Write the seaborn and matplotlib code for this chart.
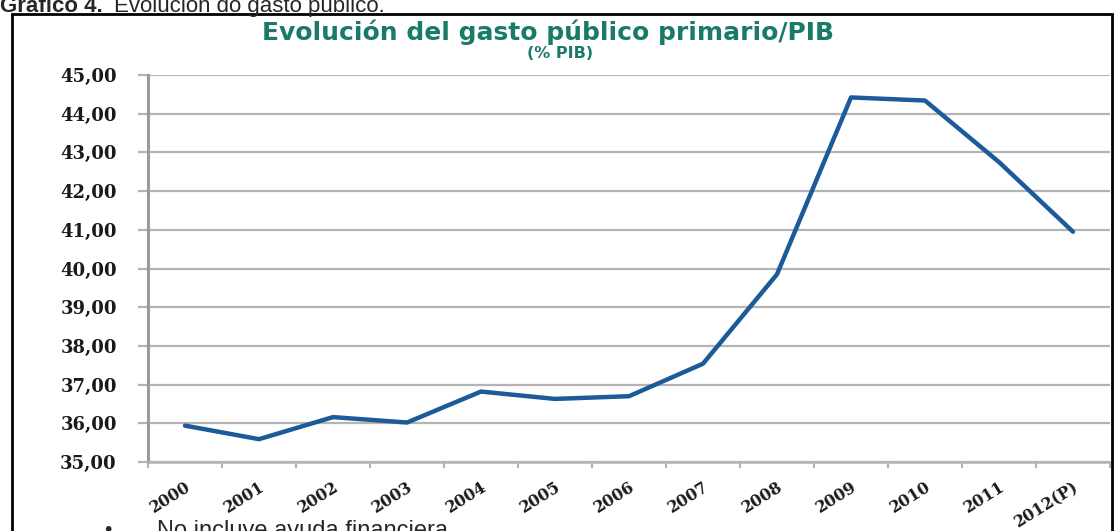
import matplotlib
matplotlib.use("Agg")
import matplotlib.pyplot as plt
import seaborn as sns
import numpy as np
import pandas as pd
from matplotlib.patches import Rectangle

years = ["2000", "2001", "2002", "2003", "2004", "2005", "2006",
         "2007", "2008", "2009", "2010", "2011", "2012(P)"]
gasto = [35.94, 35.59, 36.16, 36.02, 36.82, 36.63, 36.70,
         37.54, 39.85, 44.42, 44.34, 42.75, 40.95]
yticks = [35, 36, 37, 38, 39, 40, 41, 42, 43, 44, 45]
ytick_labels = ["35,00", "36,00", "37,00", "38,00", "39,00", "40,00",
                "41,00", "42,00", "43,00", "44,00", "45,00"]

title_text = "Evolución del gasto público primario/PIB"
subtitle_text = "(% PIB)"
header_bold = "Gráfico 4."
header_rest = "Evolución do gasto público."
note_text = "No incluye ayuda financiera"

sns.set_style("white")
plt.rcParams['font.family'] = ['DejaVu Sans']

W, H = 1115, 531
fig = plt.figure(figsize=(W / 100, H / 100), dpi=100)
ax = fig.add_axes([148 / W, 1 - 462 / H, (1110 - 148) / W, (462 - 75) / H])

df = pd.DataFrame({"year": years, "gasto": gasto})
sns.lineplot(data=df, x="year", y="gasto", ax=ax, color="#1c5a9a",
             linewidth=3.2, sort=False)

ax.set_xlim(-0.5, len(years) - 0.5)
ax.set_ylim(35, 45)
ax.set_xlabel("")
ax.set_ylabel("")

grid_col = "#b4b4b4"
ax.set_yticks(yticks)
ax.set_yticklabels(ytick_labels, fontfamily="DejaVu Serif", fontweight="bold",
                   fontsize=13, color="#1a1a1a")
ax.yaxis.grid(True, color=grid_col, linewidth=1.6)
ax.xaxis.grid(False)
ax.tick_params(axis="y", length=7.5, width=1.6, color=grid_col, pad=15, left=True)

# category boundaries as major ticks, labels at centres as minor ticks
ax.set_xticks(np.arange(-0.5, len(years), 1.0))
ax.set_xticklabels([""] * len(np.arange(-0.5, len(years), 1.0)))
ax.set_xticks(np.arange(len(years)), minor=True)
ax.set_xticklabels(years, minor=True, rotation=32, ha="right", va="top",
                   rotation_mode="anchor", fontfamily="DejaVu Serif",
                   fontweight="bold", fontsize=11.5, color="#1a1a1a")
ax.tick_params(axis="x", which="major", length=4, width=1.5, color=grid_col,
               bottom=True)
ax.tick_params(axis="x", which="minor", length=0, pad=12)

for s in ["top", "right"]:
    ax.spines[s].set_visible(False)
ax.spines["left"].set_color("#9a9a9a")
ax.spines["left"].set_linewidth(2.2)
ax.spines["bottom"].set_color(grid_col)
ax.spines["bottom"].set_linewidth(1.8)

# titles
fig.text(548 / W, 1 - 32 / H, title_text, ha="center", va="center",
         fontfamily="DejaVu Sans", fontweight="bold", fontsize=18,
         color="#1a7a68")
fig.text(560 / W, 1 - 53 / H, subtitle_text, ha="center", va="center",
         fontfamily="DejaVu Sans", fontweight="bold", fontsize=11.5,
         color="#1a7a68")

# outer frame
fig.patches.append(Rectangle((12 / W, -0.05), (1112 - 12) / W, 1.05 - 14 / H,
                             transform=fig.transFigure, fill=False,
                             edgecolor="black", linewidth=2.0))

# header
fig.text(0 / W, 1 - 12 / H, header_bold, ha="left", va="baseline",
         fontfamily="Liberation Sans", fontweight="bold", fontsize=16)
fig.text(114 / W, 1 - 12 / H, header_rest, ha="left", va="baseline",
         fontfamily="Liberation Sans", fontsize=16)

# note at bottom
fig.text(104 / W, 1 - 536 / H, "•", ha="left", va="baseline",
         fontfamily="Liberation Sans", fontsize=15)
fig.text(157 / W, 1 - 537 / H, note_text, ha="left", va="baseline",
         fontfamily="Liberation Sans", fontsize=17)

fig.savefig("out.png", dpi=100)
